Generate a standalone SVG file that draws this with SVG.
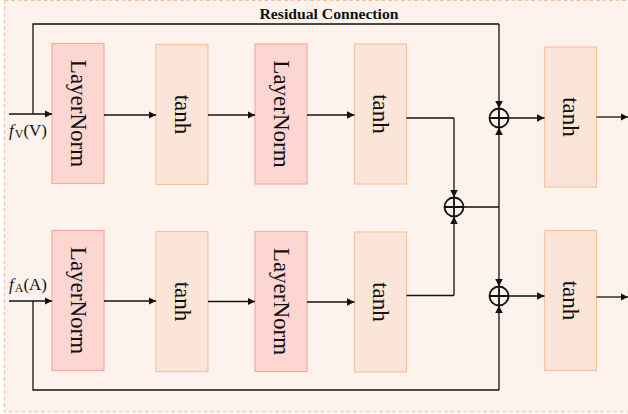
<svg xmlns="http://www.w3.org/2000/svg" width="628" height="414" viewBox="0 0 628 414">
<defs>
<style>
.ln{fill:#fdd5d1;stroke:#f5ab9e;stroke-width:1.2}
.th{fill:#fbe5d9;stroke:#f7c39e;stroke-width:1.2}
.lbl{font-family:"Liberation Serif","Times New Roman",serif;font-size:23px;fill:#111}
.c{fill:none;stroke:#111;stroke-width:1.3}
.a{fill:none;stroke:#111;stroke-width:1.3;marker-end:url(#ah)}
.op{fill:none;stroke:#111;stroke-width:1.8}
</style>
<marker id="ah" viewBox="0 0 10 10" refX="10" refY="5" markerWidth="7.5" markerHeight="7.5" markerUnits="userSpaceOnUse" orient="auto"><path d="M0,0 L10,5 L0,10 z" fill="#111"/></marker>
</defs>
<rect x="4.5" y="0.5" width="640" height="411.5" fill="#fdf3ec" stroke="#f7c4a0" stroke-width="1.2" stroke-dasharray="4,2.5"/>
<text x="329" y="19" text-anchor="middle" font-family="Liberation Serif,Times New Roman,serif" font-weight="bold" font-size="14.5" textLength="139" lengthAdjust="spacingAndGlyphs" fill="#111">Residual Connection</text>

<g id="ln1"><rect class="ln" x="52" y="43.5" width="52" height="140"/><text class="lbl" transform="translate(78,113.5) rotate(90)" text-anchor="middle" dy="7.5">LayerNorm</text></g>
<g id="tanh1"><rect class="th" x="156" y="44.5" width="52" height="140"/><text class="lbl" transform="translate(182,114.5) rotate(90)" text-anchor="middle" dy="7.5">tanh</text></g>
<g id="ln2"><rect class="ln" x="255" y="44" width="52" height="140"/><text class="lbl" transform="translate(281,114) rotate(90)" text-anchor="middle" dy="7.5">LayerNorm</text></g>
<g id="tanh2"><rect class="th" x="354.5" y="44" width="52" height="140"/><text class="lbl" transform="translate(380.5,114) rotate(90)" text-anchor="middle" dy="7.5">tanh</text></g>
<g id="tanh3"><rect class="th" x="544.5" y="47" width="52" height="140"/><text class="lbl" transform="translate(570.5,117) rotate(90)" text-anchor="middle" dy="7.5">tanh</text></g>

<g id="ln3"><rect class="ln" x="52" y="230.5" width="52" height="140"/><text class="lbl" transform="translate(78,300.5) rotate(90)" text-anchor="middle" dy="7.5">LayerNorm</text></g>
<g id="tanh4"><rect class="th" x="156" y="231.5" width="52" height="140"/><text class="lbl" transform="translate(182,301.5) rotate(90)" text-anchor="middle" dy="7.5">tanh</text></g>
<g id="ln4"><rect class="ln" x="255" y="231.5" width="52" height="140"/><text class="lbl" transform="translate(281,301.5) rotate(90)" text-anchor="middle" dy="7.5">LayerNorm</text></g>
<g id="tanh5"><rect class="th" x="354.5" y="232" width="52" height="140"/><text class="lbl" transform="translate(380.5,302) rotate(90)" text-anchor="middle" dy="7.5">tanh</text></g>
<g id="tanh6"><rect class="th" x="544.5" y="230.5" width="52" height="140"/><text class="lbl" transform="translate(570.5,300.5) rotate(90)" text-anchor="middle" dy="7.5">tanh</text></g>

<g id="add1"><circle class="op" cx="499" cy="118" r="9.5"/><path class="op" d="M489.5,118 H508.5 M499,108.5 V127.5"/></g>
<g id="add2"><circle class="op" cx="454" cy="207" r="9.5"/><path class="op" d="M444.5,207 H463.5 M454,197.5 V216.5"/></g>
<g id="add3"><circle class="op" cx="499" cy="296" r="9.5"/><path class="op" d="M489.5,296 H508.5 M499,286.5 V305.5"/></g>

<g id="labels" font-family="Liberation Serif,Times New Roman,serif" fill="#111">
<text x="9" y="136" font-size="17"><tspan font-style="italic">f</tspan><tspan font-size="12" dx="1" dy="2">V</tspan><tspan dy="-2">(V)</tspan></text>
<text x="9" y="290" font-size="17"><tspan font-style="italic">f</tspan><tspan font-size="12" dx="1" dy="2">A</tspan><tspan dy="-2">(A)</tspan></text>
</g>

<g id="connectors">
<path class="a" d="M9,114 H52"/>
<path class="a" d="M104,115 H156"/>
<path class="a" d="M208,115 H255"/>
<path class="a" d="M307,115 H354.5"/>
<path class="c" d="M33,114 V24 H499"/>
<path class="a" d="M499,24 V108.5"/>
<path class="c" d="M406.5,118 H454"/>
<path class="a" d="M454,118 V197.5"/>
<path class="a" d="M508.5,118 H544.5"/>
<path class="a" d="M596.5,117 H628"/>
<path class="c" d="M463.5,207 H499"/>
<path class="a" d="M499,207 V127.5"/>
<path class="a" d="M499,207 V286.5"/>

<path class="a" d="M9,301 H52"/>
<path class="a" d="M104,301 H156"/>
<path class="a" d="M208,301.5 H255"/>
<path class="a" d="M307,302 H354.5"/>
<path class="c" d="M406.5,295.5 H454"/>
<path class="a" d="M454,295.5 V216.5"/>
<path class="c" d="M33,301 V390 H499"/>
<path class="a" d="M499,390 V305.5"/>
<path class="a" d="M508.5,296 H544.5"/>
<path class="a" d="M596.5,297 H628"/>
</g>
</svg>
